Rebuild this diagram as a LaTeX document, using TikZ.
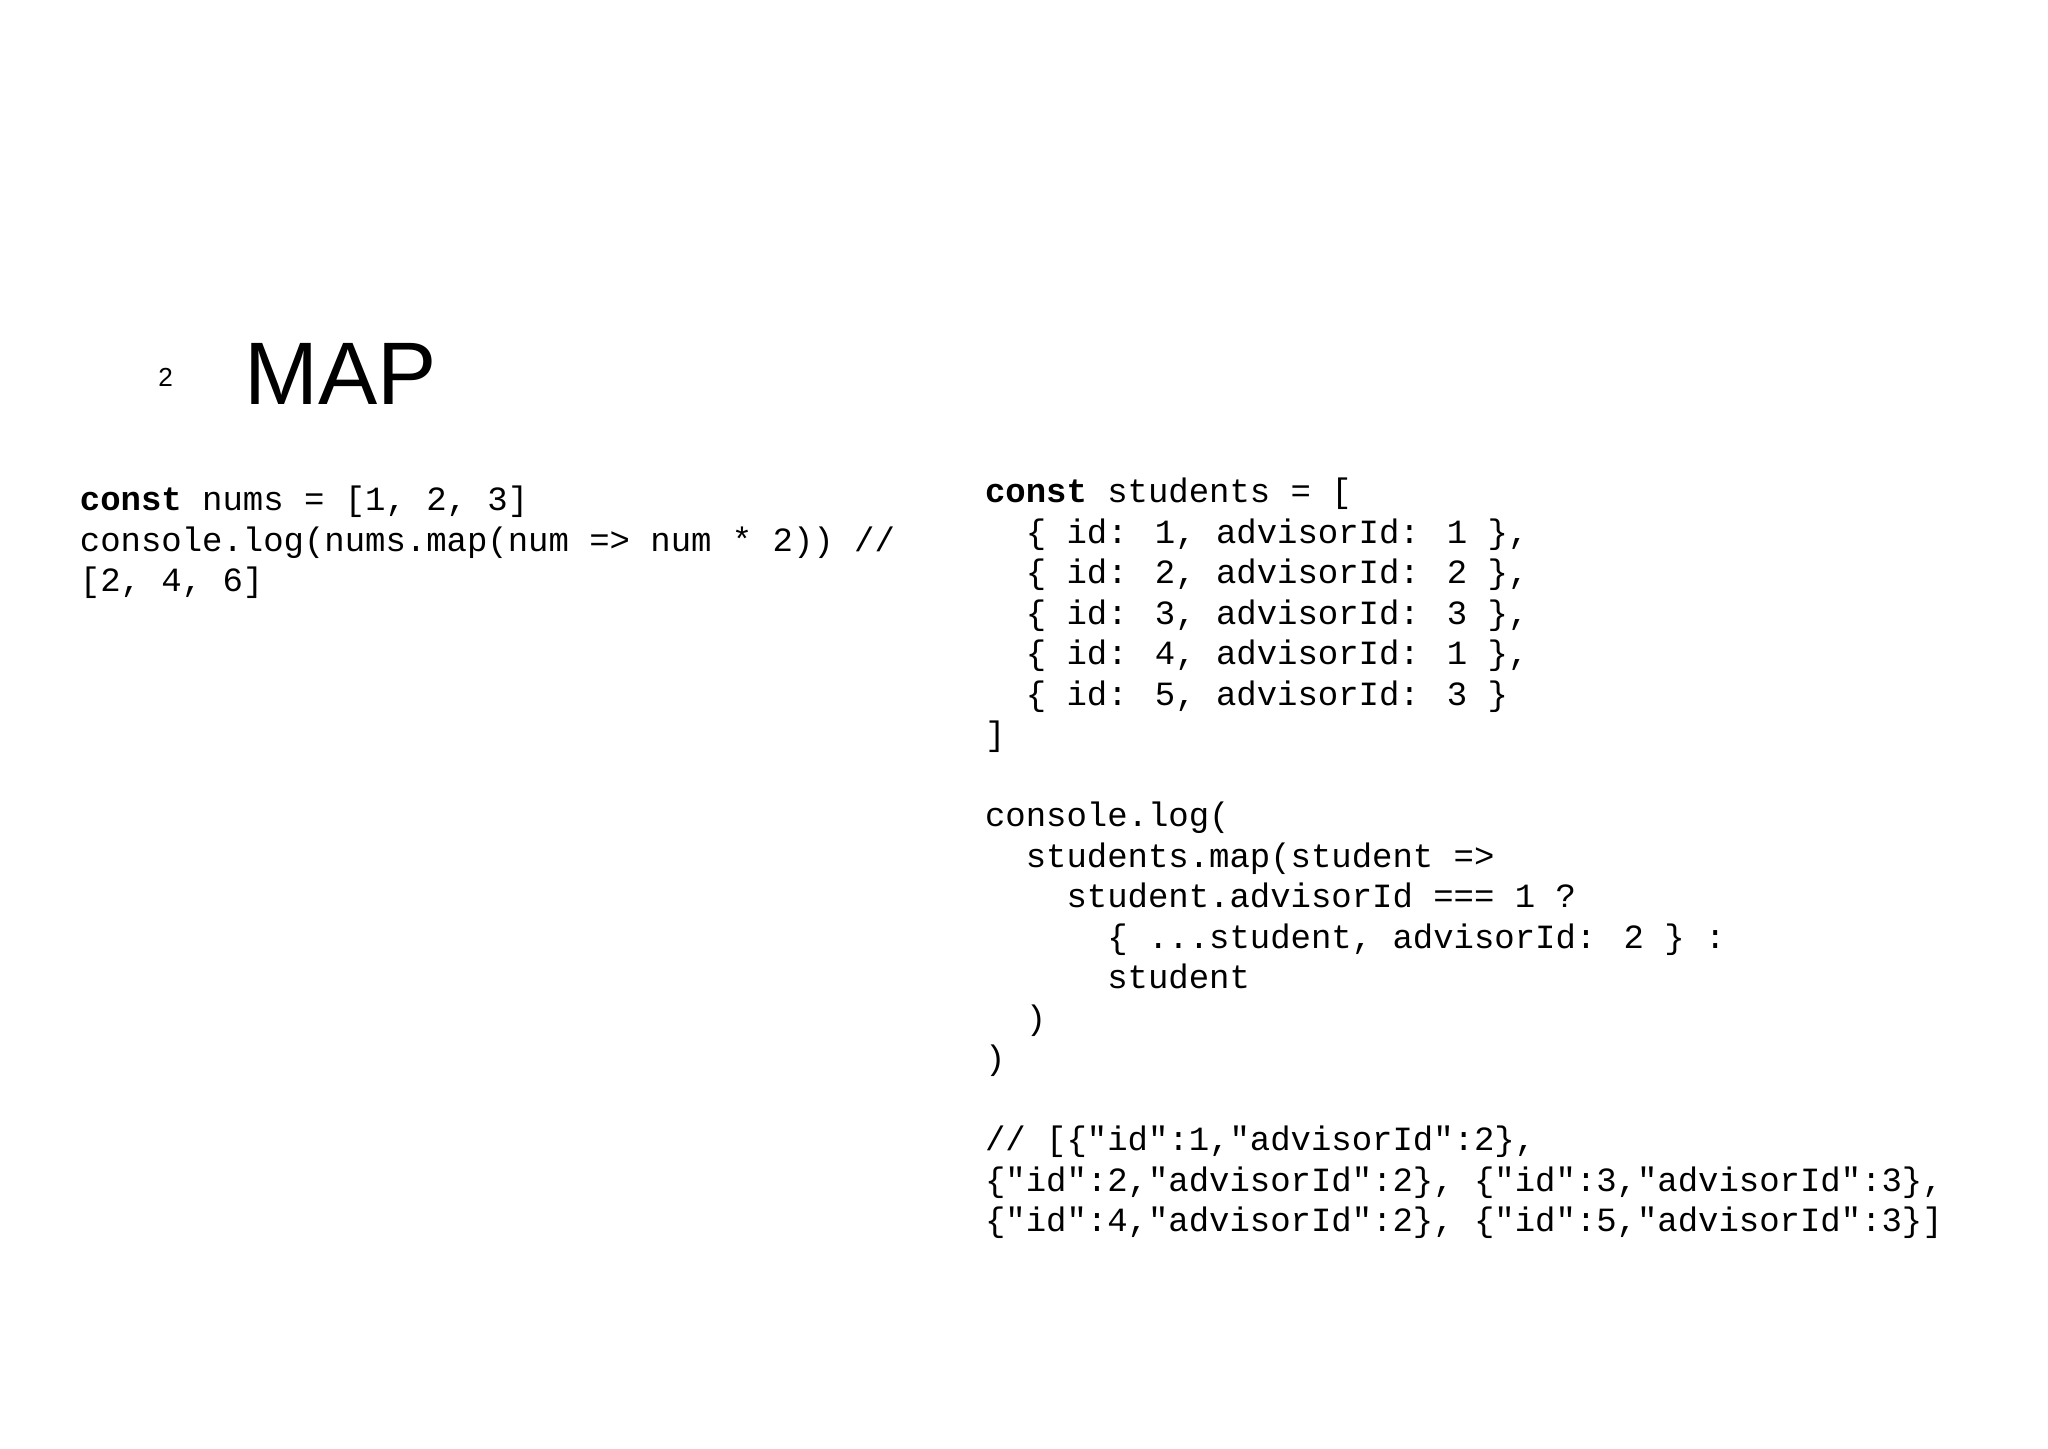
\documentclass[tikz,border=0pt]{standalone}
\usepackage{fontspec}
\setmainfont{Liberation Sans}
\newfontfamily\monofnt{Liberation Mono}
\tikzset{cl/.style={anchor=base west,inner sep=0pt,font=\monofnt\fontsize{26}{31}\selectfont}}
\newcommand{\ind}[1]{\hspace*{#1\dimexpr 15.6pt\relax}}
\begin{document}
\begin{tikzpicture}[x=1pt,y=-1pt]
\useasboundingbox (0,0) rectangle (1568,1109);
\node[anchor=base west,inner sep=0pt,font=\fontsize{20}{24}\selectfont] (num) at (121,296) {2};
\node[anchor=base west,inner sep=0pt,font=\fontsize{68}{80}\selectfont] (title) at (187,310) {MAP};
% left block
\node[cl] (l1) at (61,391) {\textbf{const} nums = [1, 2, 3]};
\node[cl] (l2) at (61,422) {console.log(nums.map(num => num * 2)) //};
\node[cl] (l3) at (61,453) {[2, 4, 6]};
% right block
\node[cl] (r1) at (754,385) {\textbf{const} students = [};
\node[cl] (r2) at (754,416) {\ind{2}\{ id: 1, advisorId: 1 \},};
\node[cl] (r3) at (754,447) {\ind{2}\{ id: 2, advisorId: 2 \},};
\node[cl] (r4) at (754,478) {\ind{2}\{ id: 3, advisorId: 3 \},};
\node[cl] (r5) at (754,509) {\ind{2}\{ id: 4, advisorId: 1 \},};
\node[cl] (r6) at (754,540) {\ind{2}\{ id: 5, advisorId: 3 \}};
\node[cl] (r7) at (754,571) {]};
\node[cl] (r8) at (754,633) {console.log(};
\node[cl] (r9) at (754,664) {\ind{2}students.map(student =>};
\node[cl] (r10) at (754,695) {\ind{4}student.advisorId === 1 ?};
\node[cl] (r11) at (754,726) {\ind{6}\{ ...student, advisorId: 2 \} :};
\node[cl] (r12) at (754,757) {\ind{6}student};
\node[cl] (r13) at (754,788) {\ind{2})};
\node[cl] (r14) at (754,819) {)};
\node[cl] (r15) at (754,881) {// [\{"id":1,"advisorId":2\},};
\node[cl] (r16) at (754,912) {\{"id":2,"advisorId":2\}, \{"id":3,"advisorId":3\},};
\node[cl] (r17) at (754,943) {\{"id":4,"advisorId":2\}, \{"id":5,"advisorId":3\}]};
\end{tikzpicture}
\end{document}
